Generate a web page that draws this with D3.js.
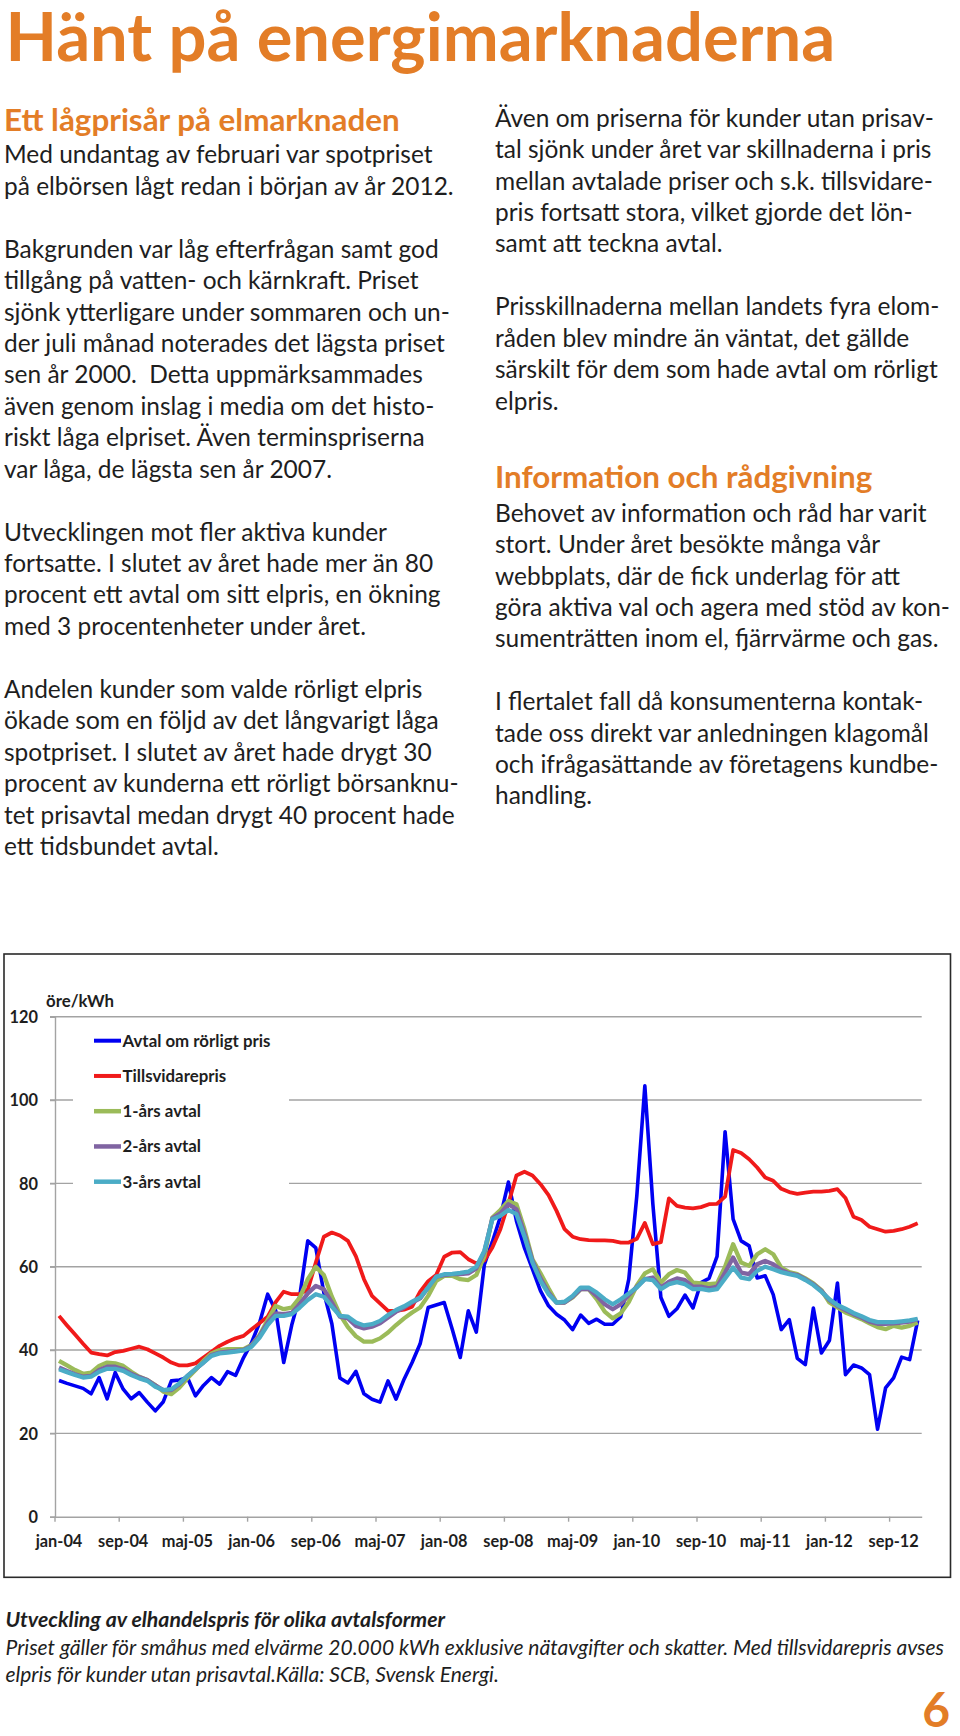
<!DOCTYPE html>
<html><head><meta charset="utf-8">
<script src="https://cdn.jsdelivr.net/npm/d3@7"></script>
<style>
html,body{margin:0;padding:0;background:#fff;}
svg{display:block;}
text{white-space:pre;}
</style></head><body>
<svg id="page" width="960" height="1736"></svg>
<script>
// ---------- DATA ----------
const monthNames = ["jan","feb","mar","apr","maj","jun","jul","aug","sep","okt","nov","dec"];
const years = ["04","05","06","07","08","09","10","11","12"];
const categories = years.flatMap(y => monthNames.map(m => m + "-" + y));
const tickLabels = ["jan-04","sep-04","maj-05","jan-06","sep-06","maj-07","jan-08","sep-08","maj-09","jan-10","sep-10","maj-11","jan-12","sep-12"];
const yTicks = [0,20,40,60,80,100,120];
const yUnit = "öre/kWh";
const seriesNames = ["Avtal om rörligt pris","Tillsvidarepris","1-års avtal","2-års avtal","3-års avtal"];
const seriesColors = ["#0000f2","#f01a1a","#9bbb59","#8064a2","#4bacc6"];

const rorligt = [32.7,32.0,31.4,30.8,29.5,33.4,28.3,34.6,30.6,28.3,
29.8,27.5,25.4,27.6,32.6,32.8,33.4,29.0,31.5,33.4,
31.8,34.8,33.9,38.2,41.8,46.6,53.4,49.5,37.0,46.0,
53.0,66.2,64.5,53.8,46.3,33.3,32.1,34.9,29.5,28.2,
27.5,32.6,28.2,33.0,37.0,41.5,50.2,50.8,51.4,45.0,
38.2,49.4,44.3,60.5,66.0,72.0,80.3,71.0,64.5,59.4,
54.2,50.6,48.6,47.2,44.9,48.4,46.4,47.4,46.2,46.2,
48.0,57.0,77.0,103.4,75.0,52.6,48.1,49.9,53.2,50.1,
56.2,57.2,62.5,92.4,71.4,66.2,65.0,57.3,57.8,53.3,
44.9,47.3,38.0,36.5,50.1,39.3,42.3,56.1,34.1,36.4,
35.7,34.1,21.0,30.9,33.3,38.3,37.7,47.1];

const tillsvidare = [48.2,45.9,43.7,41.5,39.4,39.0,38.7,39.5,39.8,40.3,
40.8,40.2,39.2,38.2,37.0,36.3,36.3,36.8,38.2,39.6,
41.0,42.0,42.8,43.4,45.0,46.5,48.0,51.5,54.0,53.4,
53.4,54.5,61.0,67.2,68.2,67.5,66.2,62.5,57.0,53.0,
51.2,49.4,49.4,49.7,50.4,54.0,56.5,58.0,62.4,63.4,
63.5,61.8,60.8,61.5,64.6,69.0,75.2,81.9,82.8,81.9,
79.8,77.2,73.4,69.0,67.2,66.6,66.4,66.3,66.3,66.2,
65.8,65.8,66.7,70.5,65.4,65.9,76.4,74.6,74.2,74.0,
74.3,75.0,75.1,76.8,88.0,87.3,85.8,83.8,81.4,80.6,
78.7,77.9,77.5,77.8,78.0,78.0,78.2,78.6,76.5,72.0,
71.2,69.6,69.0,68.4,68.6,69.0,69.6,70.4];

const ettAr = [37.4,36.3,35.2,34.3,34.6,36.2,37.0,36.8,36.2,34.8,
33.6,32.8,31.6,30.0,29.4,31.0,33.2,35.2,37.4,39.2,
40.0,40.2,40.2,40.2,41.2,43.6,47.2,50.6,49.8,50.2,
52.6,57.0,60.0,58.0,52.8,48.5,45.5,43.3,42.0,42.0,
42.8,44.2,46.0,47.6,49.0,50.2,53.0,56.6,57.8,57.8,
57.0,56.8,58.0,62.5,71.8,73.6,75.8,75.0,69.0,61.8,
58.4,54.8,51.4,51.4,52.6,54.6,54.6,52.2,49.2,47.6,
48.8,51.5,55.5,58.4,59.4,56.2,58.2,59.2,58.6,56.2,
56.0,55.8,56.0,60.0,65.4,61.0,60.2,63.0,64.2,63.0,
59.8,58.7,58.2,57.2,56.0,54.4,51.4,50.2,49.0,48.2,
47.4,46.4,45.5,45.0,45.8,45.4,45.8,46.6];

const tvaAr = [35.8,35.0,34.2,33.6,33.8,35.2,36.0,36.0,35.4,34.3,
33.5,32.8,31.5,30.4,30.4,31.8,33.8,35.4,37.0,38.8,
39.4,39.6,39.8,40.0,41.0,43.4,46.6,48.8,48.6,48.9,
51.0,53.6,55.4,54.6,51.4,48.0,47.6,45.8,45.2,45.6,
46.4,47.8,49.2,50.2,51.4,52.4,55.0,57.6,58.0,58.2,
58.2,58.4,59.6,63.6,71.6,72.8,75.0,73.8,68.0,61.4,
57.2,53.8,51.4,51.4,52.8,54.6,54.6,53.0,51.0,49.8,
51.0,53.2,55.2,57.0,57.4,55.0,56.4,57.2,56.8,55.2,
55.2,54.8,55.2,58.6,62.2,58.6,58.2,60.6,61.4,60.6,
59.2,58.4,58.0,57.0,55.8,54.2,52.0,50.6,49.6,48.6,
47.8,46.8,46.3,46.3,46.4,46.6,46.8,47.4];

const treAr = [35.4,34.7,34.0,33.4,33.6,34.8,35.5,35.5,35.0,34.0,
33.2,32.6,31.2,30.4,30.6,32.0,33.8,35.4,37.0,38.6,
39.2,39.4,39.6,39.9,40.8,43.0,46.0,48.2,48.2,48.6,
50.2,52.0,53.4,52.8,50.4,48.2,48.0,46.6,45.9,46.2,
47.0,48.4,49.6,50.5,51.6,52.6,55.0,57.6,58.2,58.3,
58.5,58.8,60.0,63.8,71.4,72.2,73.6,72.6,67.2,61.0,
56.6,53.4,51.4,51.6,53.0,55.0,55.0,53.8,52.2,51.0,
52.2,53.6,55.0,57.0,56.8,54.6,55.8,56.3,55.8,54.6,
54.7,54.3,54.6,57.2,59.8,57.4,57.0,59.0,60.0,59.4,
58.7,58.2,57.8,56.8,55.6,54.0,52.2,50.8,49.9,48.9,
48.1,47.2,46.7,46.7,46.7,46.9,47.1,47.5];

const series = [rorligt, tillsvidare, ettAr, tvaAr, treAr];

// ---------- TEXT ----------
const pageTitle = "Hänt på energimarknaderna";
const leftHeading = "Ett lågprisår på elmarknaden";
const leftLines = [
"Med undantag av februari var spotpriset",
"på elbörsen lågt redan i början av år 2012.",
"",
"Bakgrunden var låg efterfrågan samt god",
"tillgång på vatten- och kärnkraft. Priset",
"sjönk ytterligare under sommaren och un-",
"der juli månad noterades det lägsta priset",
"sen år 2000.  Detta uppmärksammades",
"även genom inslag i media om det histo-",
"riskt låga elpriset. Även terminspriserna",
"var låga, de lägsta sen år 2007.",
"",
"Utvecklingen mot fler aktiva kunder",
"fortsatte. I slutet av året hade mer än 80",
"procent ett avtal om sitt elpris, en ökning",
"med 3 procentenheter under året.",
"",
"Andelen kunder som valde rörligt elpris",
"ökade som en följd av det långvarigt låga",
"spotpriset. I slutet av året hade drygt 30",
"procent av kunderna ett rörligt börsanknu-",
"tet prisavtal medan drygt 40 procent hade",
"ett tidsbundet avtal."];
const rightLinesA = [
"Även om priserna för kunder utan prisav-",
"tal sjönk under året var skillnaderna i pris",
"mellan avtalade priser och s.k. tillsvidare-",
"pris fortsatt stora, vilket gjorde det lön-",
"samt att teckna avtal.",
"",
"Prisskillnaderna mellan landets fyra elom-",
"råden blev mindre än väntat, det gällde",
"särskilt för dem som hade avtal om rörligt",
"elpris."];
const rightHeading = "Information och rådgivning";
const rightLinesB = [
"Behovet av information och råd har varit",
"stort. Under året besökte många vår",
"webbplats, där de fick underlag för att",
"göra aktiva val och agera med stöd av kon-",
"sumenträtten inom el, fjärrvärme och gas.",
"",
"I flertalet fall då konsumenterna kontak-",
"tade oss direkt var anledningen klagomål",
"och ifrågasättande av företagens kundbe-",
"handling."];
const captionTitle = "Utveckling av elhandelspris för olika avtalsformer";
const captionLines = [
"Priset gäller för småhus med elvärme 20.000 kWh exklusive nätavgifter och skatter. Med tillsvidarepris avses",
"elpris för kunder utan prisavtal.Källa: SCB, Svensk Energi."];
const pageNumber = "6";

// ---------- DRAW ----------
const svg = d3.select("#page");
const FONT = "Lato, 'Open Sans', 'DejaVu Sans', sans-serif";
const ORANGE = "#e37d27";
const INK = "#1e1e1e";

function fit(txt, target, weight, style) {
  const t = svg.append("text").attr("font-family", FONT).attr("font-size", 100)
    .attr("font-weight", weight || 400).attr("font-style", style || "normal").text(txt);
  const w = t.node().getComputedTextLength();
  t.remove();
  return 100 * target / w;
}
function txt(g, s, x, y, size, opts) {
  opts = opts || {};
  return g.append("text").attr("x", x).attr("y", y)
    .attr("font-family", FONT).attr("font-size", size)
    .attr("font-weight", opts.weight || 400).attr("font-style", opts.style || "normal")
    .attr("fill", opts.fill || INK).attr("text-anchor", opts.anchor || "start").text(s);
}

svg.append("rect").attr("width", 960).attr("height", 1736).attr("fill", "#fff");

// title
const titleSize = fit(pageTitle, 830, 700);
txt(svg, pageTitle, 5.5, 61, titleSize, {weight: 700, fill: ORANGE});

// headings & body
const headSize = fit(leftHeading, 396, 700);
const bodySize = fit(leftLines[0], 428.7, 400);
const textG = svg.append("g");
txt(textG, leftHeading, 4, 130.7, headSize, {weight: 700, fill: ORANGE});
leftLines.forEach((s, i) => { if (s) txt(textG, s, 4, 163.3 + i * 31.44, bodySize); });
rightLinesA.forEach((s, i) => { if (s) txt(textG, s, 495, 126.7 + i * 31.44, bodySize); });
txt(textG, rightHeading, 495, 488.3, headSize, {weight: 700, fill: ORANGE});
rightLinesB.forEach((s, i) => { if (s) txt(textG, s, 495, 521.7 + i * 31.4, bodySize); });

// ---------- CHART ----------
const chart = svg.append("g");
chart.append("rect").attr("x", 4).attr("y", 954).attr("width", 946.5).attr("height", 623.3)
  .attr("fill", "#fff").attr("stroke", "#2a2a2a").attr("stroke-width", 1.6);

const plotL = 55, plotR = 921.7, plotT = 1016.7, plotB = 1516.7;
const x = d3.scaleBand().domain(categories).range([plotL, plotR]).paddingInner(0).paddingOuter(0);
const y = d3.scaleLinear().domain([0, 120]).range([plotB, plotT]);
const GRID = "#a3a3a3";

// gridlines
chart.append("g").selectAll("line").data(yTicks.filter(v => v > 0)).join("line")
  .attr("x1", plotL - 5).attr("x2", plotR).attr("y1", d => y(d)).attr("y2", d => y(d))
  .attr("stroke", GRID).attr("stroke-width", 1.4);

// y axis
const yAxis = chart.append("g").attr("transform", `translate(${plotL},0)`)
  .call(d3.axisLeft(y).tickValues(yTicks).tickSize(5).tickFormat(d3.format("d")));
yAxis.select(".domain").attr("stroke", GRID).attr("stroke-width", 1.4);
yAxis.selectAll(".tick line").attr("stroke", GRID).attr("stroke-width", 1.4);
const tickSize = fit("jan-04", 46.7, 700);
yAxis.selectAll(".tick text").attr("x", -17).attr("dy", "0.36em")
  .attr("font-family", FONT).attr("font-size", tickSize).attr("font-weight", 700).attr("fill", INK);

// x axis
const xAxis = chart.append("g").attr("transform", `translate(0,${plotB})`)
  .call(d3.axisBottom(x).tickValues(tickLabels).tickSize(0).tickPadding(0));
xAxis.select(".domain").attr("stroke", GRID).attr("stroke-width", 1.4);
xAxis.selectAll(".tick text").attr("y", 30).attr("dy", 0)
  .attr("font-family", FONT).attr("font-size", tickSize).attr("font-weight", 700).attr("fill", INK);
// tick marks sit at category boundaries (between tick marks)
chart.append("g").selectAll("line").data(tickLabels).join("line")
  .attr("x1", d => x(d)).attr("x2", d => x(d)).attr("y1", plotB).attr("y2", plotB + 5)
  .attr("stroke", GRID).attr("stroke-width", 1.4);

txt(chart, yUnit, 46, 1006.7, tickSize * 1.03, {weight: 700});

// legend box (covers gridlines)
const legG = chart.append("g");
legG.append("rect").attr("x", 73).attr("y", 1022).attr("width", 216).attr("height", 176).attr("fill", "#fff");
const legSize = fit(seriesNames[0], 148, 700);
seriesNames.forEach((n, i) => {
  const ly = 1040.7 + i * 35.25;
  legG.append("line").attr("x1", 94).attr("x2", 121).attr("y1", ly).attr("y2", ly)
    .attr("stroke", seriesColors[i]).attr("stroke-width", i < 2 ? 4 : 4.5);
  txt(legG, n, 122.5, ly + 6, legSize, {weight: 700});
});

// lines
const line = d3.line().x((d, i) => x(categories[i]) + x.bandwidth() / 2).y(d => y(d));
const widths = [3.6, 3.8, 4.3, 4.3, 4.3];
chart.append("g").selectAll("path").data(series).join("path")
  .attr("d", d => line(d)).attr("fill", "none")
  .attr("stroke", (d, i) => seriesColors[i]).attr("stroke-width", (d, i) => widths[i])
  .attr("stroke-linejoin", "round");

// caption
const capTitleSize = fit(captionTitle, 440, 700, "italic");
const capSize = fit(captionLines[0], 939, 400, "italic");
txt(svg, captionTitle, 5.5, 1627, capTitleSize, {weight: 700, style: "italic"});
captionLines.forEach((s, i) => txt(svg, s, 5.5, 1655 + i * 27, capSize, {style: "italic"}));

// page number
txt(svg, pageNumber, 950, 1727, 48, {weight: 700, fill: ORANGE, anchor: "end"});
</script>
</body></html>
